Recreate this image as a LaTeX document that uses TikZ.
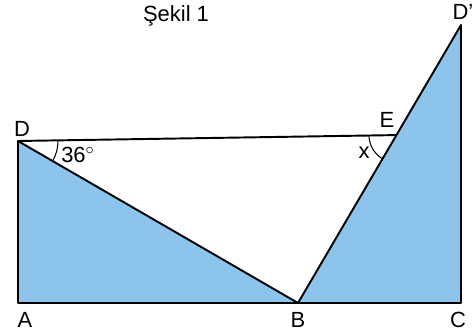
\documentclass[tikz,border=0pt]{standalone}
\usepackage{fontspec}
\setmainfont{Liberation Sans}
\definecolor{fillblue}{HTML}{8DC4EC}
\usetikzlibrary{angles,calc}

\tikzset{
  edge/.style={black,line width=1.1pt,line join=round},
  lbl/.style={font=\fontsize{12.5}{15}\selectfont,inner sep=0pt}
}

\begin{document}
\begin{tikzpicture}[x=0.02cm,y=0.02cm]
    \useasboundingbox (0,0) rectangle (474,334);

    % Corner points
    \coordinate (A)  at (18,31);
    \coordinate (D)  at (18,193);
    \coordinate (B)  at (298,31);
    \coordinate (C)  at (461,31);
    \coordinate (Dp) at (461,309);
    \coordinate (E)  at ($(B)!0.604!(Dp)$);

    % Shaded triangles
    \fill[fillblue] (A) -- (B) -- (D) -- cycle;
    \fill[fillblue] (B) -- (C) -- (Dp) -- cycle;

    % Edges
    \draw[edge] (D) -- (A) -- (B) -- cycle;
    \draw[edge] (B) -- (C) -- (Dp) -- cycle;
    \draw[edge] (D) -- (E);

    % Angle marks
    \pic[draw,line width=0.6pt,angle radius=0.8cm] {angle = B--D--E};
    \pic[draw,line width=0.6pt,angle radius=0.55cm] {angle = D--E--B};

    \node[lbl] (angD) at (78,179) {36$^\circ$};
    \node[lbl] (angE) at (364,181) {x};

    % Vertex labels
    \node[lbl] (lA)  at (25,14)   {A};
    \node[lbl] (lB)  at (298,14)  {B};
    \node[lbl] (lC)  at (458,14)  {C};
    \node[lbl] (lD)  at (22,205)  {D};
    \node[lbl] (lE)  at (387,214) {E};
    \node[lbl] (lDp) at (463,322) {D'};

    \node[lbl] (title) at (176,318) {Şekil 1};
\end{tikzpicture}
\end{document}
